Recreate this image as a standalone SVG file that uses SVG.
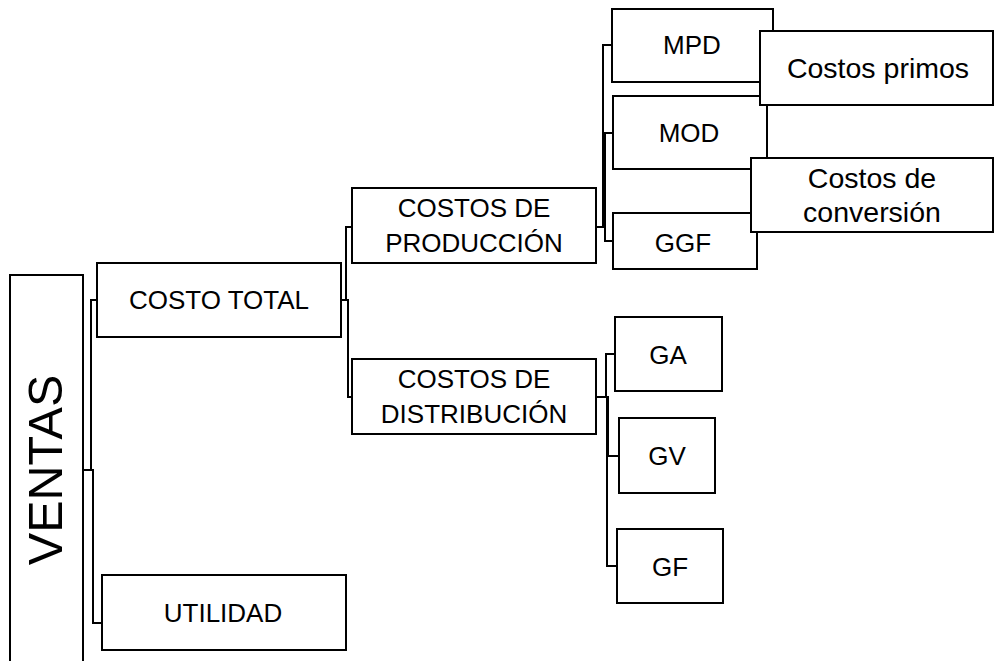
<svg xmlns="http://www.w3.org/2000/svg" width="994" height="661" viewBox="0 0 994 661">
<style>
.box{fill:#fff;stroke:#000;stroke-width:2}
.c{fill:none;stroke:#000;stroke-width:2}
.t{font-family:"Liberation Sans",Arial,sans-serif;font-size:26px;fill:#000;text-anchor:middle}
.m{font-size:28.5px}
</style>
<rect width="994" height="661" fill="#fff"/>
<g id="connectors">
<polyline class="c" points="84,470 91,470 91,300 97,300"/>
<polyline class="c" points="84,470 93,470 93,623 102,623"/>
<polyline class="c" points="341,300 346,300 346,227 352,227"/>
<polyline class="c" points="341,300 348,300 348,397 352,397"/>
<polyline class="c" points="596,227 603,227 603,45 612,45"/>
<polyline class="c" points="596,227 605,227 605,133 613,133"/>
<polyline class="c" points="596,227 605,227 605,241 613,241"/>
<polyline class="c" points="596,397 606,397 606,354 615,354"/>
<polyline class="c" points="596,397 608,397 608,456 619,456"/>
<polyline class="c" points="596,397 607,397 607,566 617,566"/>
</g>
<g id="ventas"><rect class="box" x="10" y="275" width="73" height="400"/><text class="t" transform="translate(62,470) rotate(-90)" style="font-size:48.5px">VENTAS</text></g>
<g id="costo-total"><rect class="box" x="97" y="263" width="244" height="74"/><text class="t" x="219" y="309">COSTO TOTAL</text></g>
<g id="utilidad"><rect class="box" x="102" y="575" width="244" height="75"/><text class="t" x="223" y="622">UTILIDAD</text></g>
<g id="costos-produccion"><rect class="box" x="352" y="188" width="244" height="75"/><text class="t" x="474" y="217">COSTOS DE</text><text class="t" x="474" y="252">PRODUCCIÓN</text></g>
<g id="costos-distribucion"><rect class="box" x="352" y="359" width="244" height="75"/><text class="t" x="474" y="388">COSTOS DE</text><text class="t" x="474" y="423">DISTRIBUCIÓN</text></g>
<g id="mpd"><rect class="box" x="612" y="9" width="161" height="73"/><text class="t" x="692" y="54">MPD</text></g>
<g id="mod"><rect class="box" x="613" y="96" width="154" height="73"/><text class="t" x="689" y="142">MOD</text></g>
<g id="ggf"><rect class="box" x="613" y="213" width="144" height="56"/><text class="t" x="683" y="252">GGF</text></g>
<g id="costos-primos"><rect class="box" x="760" y="31" width="233" height="74"/><text class="t m" x="878" y="78">Costos primos</text></g>
<g id="costos-conversion"><rect class="box" x="751" y="158" width="242" height="74"/><text class="t m" x="872" y="188">Costos de</text><text class="t m" x="872" y="222">conversión</text></g>
<g id="ga"><rect class="box" x="615" y="317" width="107" height="74"/><text class="t" x="668" y="364">GA</text></g>
<g id="gv"><rect class="box" x="619" y="418" width="96" height="75"/><text class="t" x="667" y="465">GV</text></g>
<g id="gf"><rect class="box" x="617" y="529" width="106" height="74"/><text class="t" x="670" y="576">GF</text></g>
</svg>
